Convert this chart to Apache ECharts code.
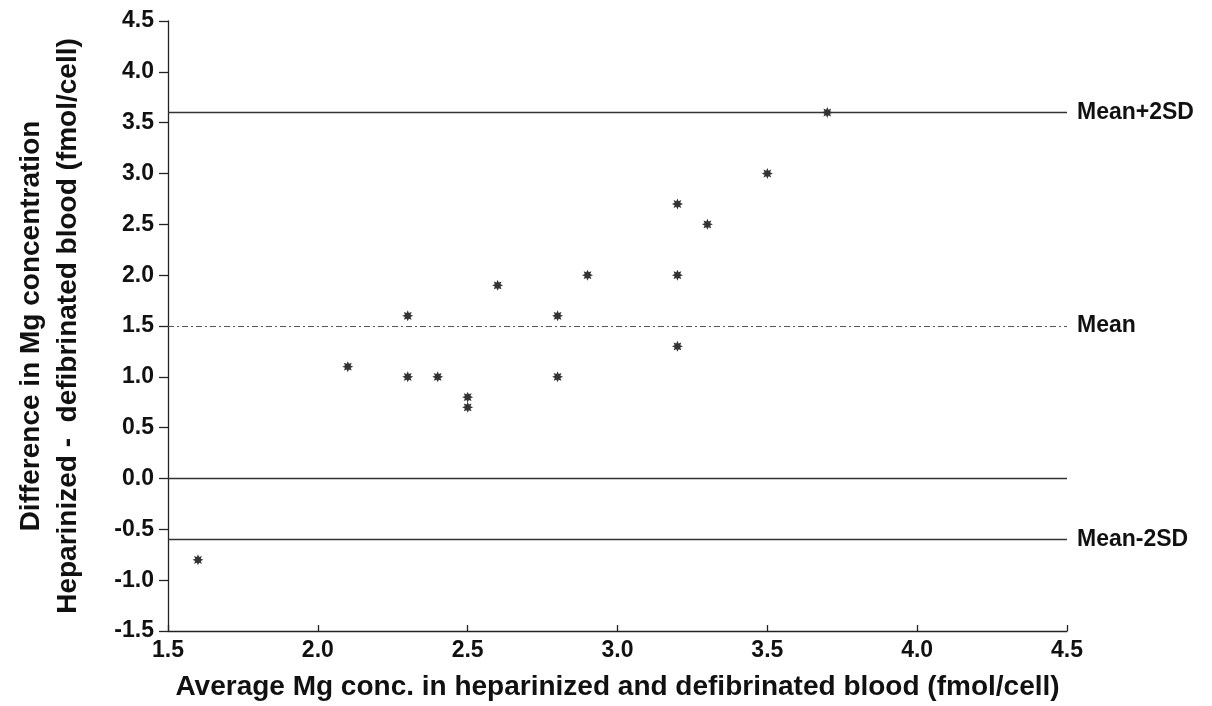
<!DOCTYPE html>
<html>
<head>
<meta charset="utf-8">
<script src="https://cdn.jsdelivr.net/npm/echarts@6/dist/echarts.min.js"></script>
<style>
html,body{margin:0;padding:0;background:#fff;}
#chart{width:1212px;height:706px;}
</style>
</head>
<body>
<div id="chart"></div>
<script>
// Data
const xValues = [1.6, 2.1, 2.3, 2.3, 2.4, 2.5, 2.5, 2.6, 2.8, 2.8, 2.9, 3.2, 3.2, 3.2, 3.3, 3.5, 3.7];
const yValues = [-0.8, 1.1, 1.6, 1.0, 1.0, 0.8, 0.7, 1.9, 1.6, 1.0, 2.0, 2.7, 2.0, 1.3, 2.5, 3.0, 3.6];
const refNames = ['Mean+2SD', 'Mean', '', 'Mean-2SD'];
const refValues = [3.6, 1.5, 0.0, -0.6];
const refDashed = [false, true, false, false];
const xTitle = 'Average Mg conc. in heparinized and defibrinated blood (fmol/cell)';
const yTitle = 'Difference in Mg concentration\nHeparinized -  defibrinated blood (fmol/cell)';

// asterisk symbol shape
function starPath(n, rOut, rIn) {
  let d = '';
  for (let i = 0; i < n * 2; i++) {
    const a = Math.PI * i / n - Math.PI / 2;
    const r = i % 2 === 0 ? rOut : rIn;
    d += (i === 0 ? 'M' : 'L') + (10 + r * Math.cos(a)).toFixed(2) + ' ' + (10 + r * Math.sin(a)).toFixed(2) + ' ';
  }
  return 'path://' + d + 'Z';
}

const points = xValues.map((x, i) => [x, yValues[i]]);
const font = '"Liberation Sans", Arial, Helvetica, sans-serif';

const markData = refValues.map((v, i) => ({
  yAxis: v,
  name: refNames[i],
  lineStyle: { type: refDashed[i] ? [6, 3, 2, 3] : 'solid', color: refDashed[i] ? '#555' : '#333', width: refDashed[i] ? 1 : 1.3 }
}));

const chart = echarts.init(document.getElementById('chart'));
chart.setOption({
  animation: false,
  backgroundColor: '#fff',
  grid: { left: 168, right: 145, top: 21, bottom: 74 },
  xAxis: {
    type: 'value', min: 1.5, max: 4.5, interval: 0.5,
    name: xTitle, nameLocation: 'middle', nameGap: 42,
    nameTextStyle: { fontFamily: font, fontWeight: 'bold', fontSize: 28, color: '#111' },
    axisLine: { show: true, onZero: false, lineStyle: { color: '#222', width: 1.3 } },
    axisTick: { show: true, inside: true, length: 6, lineStyle: { color: '#222', width: 1.3 } },
    axisLabel: { fontFamily: font, fontWeight: 'bold', fontSize: 23, color: '#111', margin: 8,
      formatter: v => v.toFixed(1) },
    splitLine: { show: false }
  },
  yAxis: {
    type: 'value', min: -1.5, max: 4.5, interval: 0.5,
    name: yTitle, nameLocation: 'middle', nameGap: 81, nameRotate: 90,
    nameTextStyle: { fontFamily: font, fontWeight: 'bold', fontSize: 28, color: '#111', lineHeight: 37 },
    axisLine: { show: true, onZero: false, lineStyle: { color: '#222', width: 1.3 } },
    axisTick: { show: true, inside: false, length: 9, lineStyle: { color: '#222', width: 1.3 } },
    axisLabel: { fontFamily: font, fontWeight: 'bold', fontSize: 23, color: '#111', margin: 14,
      formatter: v => v.toFixed(1) },
    splitLine: { show: false }
  },
  series: [{
    type: 'scatter',
    data: points,
    symbol: starPath(8, 10, 5.5),
    symbolSize: 11,
    itemStyle: { color: '#000' },
    clip: false,
    markLine: {
      silent: true,
      symbol: ['none', 'none'],
      animation: false,
      label: {
        show: true, position: 'end', distance: 10, formatter: '{b}',
        fontFamily: font, fontWeight: 'bold', fontSize: 23, color: '#111'
      },
      data: markData
    }
  }]
});
</script>
</body>
</html>
